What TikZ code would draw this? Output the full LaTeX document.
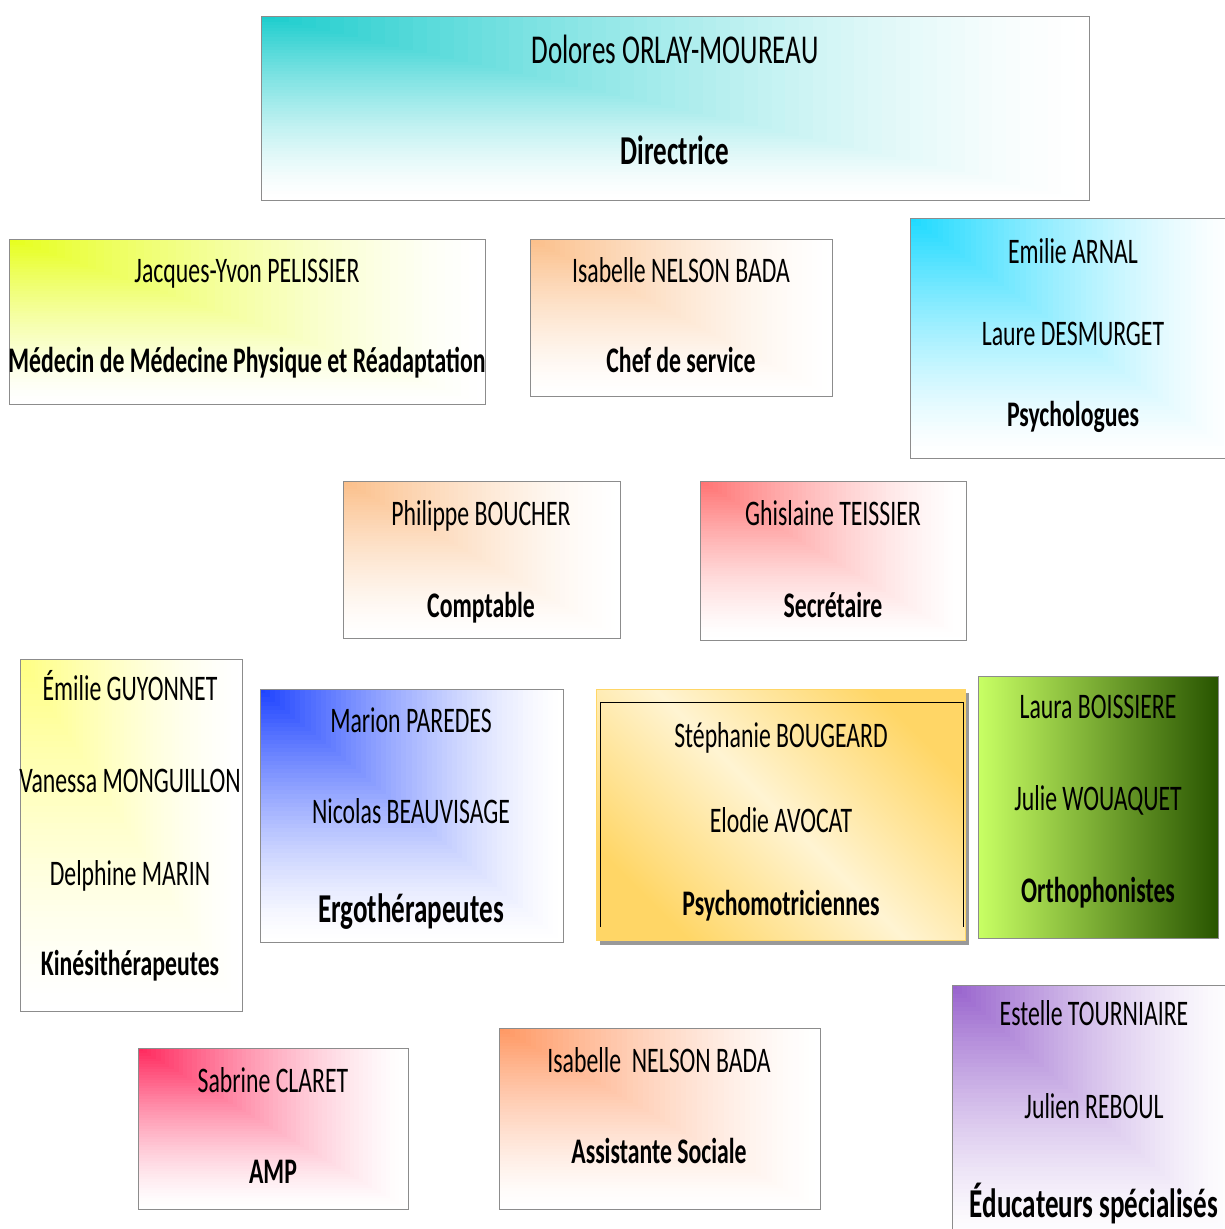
\documentclass[tikz,border=0pt]{standalone}
\usepackage{fontspec}
\setmainfont{Carlito}[FakeStretch=0.66]
\usetikzlibrary{positioning}
\definecolor{boxgray}{RGB}{140,140,140}
\definecolor{teal1}{RGB}{24,204,204}
\definecolor{lime1}{RGB}{230,255,26}
\definecolor{peach1}{RGB}{251,190,136}
\definecolor{cyan1}{RGB}{26,217,255}
\definecolor{salmon1}{RGB}{255,112,112}
\definecolor{lemon1}{RGB}{255,255,128}
\definecolor{blue1}{RGB}{26,64,255}
\definecolor{gold1}{RGB}{255,214,102}
\definecolor{gold2}{RGB}{255,244,210}
\definecolor{green1}{RGB}{200,255,100}
\definecolor{green2}{RGB}{40,84,0}
\definecolor{purple1}{RGB}{150,96,204}
\definecolor{crimson1}{RGB}{255,36,90}
\definecolor{orange1}{RGB}{255,150,96}
\newcommand\namefont{\fontsize{36}{40}\selectfont}
\newcommand\rolefont{\bfseries\fontsize{36}{40}\selectfont}
\newcommand\bignamefont{\fontsize{41}{46}\selectfont}
\newcommand\bigrolefont{\bfseries\fontsize{41}{46}\selectfont}
% corner fade: x, y, width, height, colour
\newcommand\cornerfade[5]{%
    \foreach \i [evaluate=\i as \pct using {100*(1.001-\i/60)^1.4}] in {60,...,1}
        \fill[#5!\pct!white] (#1, #2) rectangle ++(\i/60*#3, \i/60*#4);
}

\begin{document}
\begin{tikzpicture}[x=1pt, y=-1pt,
    box/.style={draw=boxgray, line width=1.3pt, inner sep=0pt, anchor=north west},
    who/.style={anchor=base, inner sep=0pt, font=\namefont},
    role/.style={anchor=base, inner sep=0pt, font=\rolefont}]
    \useasboundingbox (0,0) rectangle (1225,1229);
    \clip (0,0) rectangle (1225,1229);

    %Directrice
    \cornerfade{261}{16}{828}{184}{teal1}
    \node at (261, 16) [box, minimum width=828pt, minimum height=184pt] (dir) {};
    \node at (675, 63) [who, font=\bignamefont] (dir_n) {Dolores ORLAY-MOUREAU};
    \node at (675, 164) [role, font=\bigrolefont] (dir_r) {Directrice};

    %Medecin
    \cornerfade{9}{239}{476}{165}{lime1}
    \node at (9, 239) [box, minimum width=476pt, minimum height=165pt] (med) {};
    \node at (247, 282) [who] (med_n) {Jacques-Yvon PELISSIER};
    \node at (247, 372) [role] (med_r) {Médecin de Médecine Physique et Réadaptation};

    %Chef de service
    \cornerfade{530}{239}{302}{157}{peach1}
    \node at (530, 239) [box, minimum width=302pt, minimum height=157pt] (chef) {};
    \node at (681, 282) [who] (chef_n) {Isabelle NELSON BADA};
    \node at (681, 372) [role] (chef_r) {Chef de service};

    %Psychologues
    \cornerfade{910}{218}{330}{240}{cyan1}
    \node at (910, 218) [box, minimum width=330pt, minimum height=240pt] (psy) {};
    \node at (1073, 263) [who] (psy_n1) {Emilie ARNAL};
    \node at (1073, 345) [who] (psy_n2) {Laure DESMURGET};
    \node at (1073, 426) [role] (psy_r) {Psychologues};

    %Comptable
    \cornerfade{343}{481}{277}{157}{peach1}
    \node at (343, 481) [box, minimum width=277pt, minimum height=157pt] (cpt) {};
    \node at (481, 525) [who] (cpt_n) {Philippe BOUCHER};
    \node at (481, 617) [role] (cpt_r) {Comptable};

    %Secretaire
    \cornerfade{700}{481}{266}{159}{salmon1}
    \node at (700, 481) [box, minimum width=266pt, minimum height=159pt] (sec) {};
    \node at (833, 525) [who] (sec_n) {Ghislaine TEISSIER};
    \node at (833, 617) [role] (sec_r) {Secrétaire};

    %Kine
    \cornerfade{20}{659}{222}{352}{lemon1}
    \node at (20, 659) [box, minimum width=222pt, minimum height=352pt] (kine) {};
    \node at (130, 700) [who] (kine_n1) {Émilie GUYONNET};
    \node at (130, 792) [who] (kine_n2) {Vanessa MONGUILLON};
    \node at (130, 885) [who] (kine_n3) {Delphine MARIN};
    \node at (130, 975) [role] (kine_r) {Kinésithérapeutes};

    %Ergo
    \cornerfade{260}{689}{303}{253}{blue1}
    \node at (260, 689) [box, minimum width=303pt, minimum height=253pt] (ergo) {};
    \node at (411, 732) [who] (ergo_n1) {Marion PAREDES};
    \node at (411, 823) [who] (ergo_n2) {Nicolas BEAUVISAGE};
    \node at (411, 922) [role, font=\bigrolefont] (ergo_r) {Ergothérapeutes};

    %Psychomot
    \node at (600, 693) [anchor=north west, fill=black!40, minimum width=369pt, minimum height=252pt, inner sep=0pt] (pm_s) {};
    \node at (596, 689) [anchor=north west, draw=gold1, line width=1.3pt, inner sep=0pt,
        top color=gold1, bottom color=gold1, middle color=gold2, shading angle=-45,
        minimum width=369pt, minimum height=251pt] (pm) {};
    \draw[line width=0.8pt] (600, 927) -- (600, 702) -- (963, 702) -- (963, 927);
    \node at (781, 747) [who] (pm_n1) {Stéphanie BOUGEARD};
    \node at (781, 832) [who] (pm_n2) {Elodie AVOCAT};
    \node at (781, 915) [role] (pm_r) {Psychomotriciennes};

    %Ortho
    \node at (978, 676) [box, left color=green1, right color=green2, minimum width=240pt, minimum height=262pt] (orth) {};
    \node at (1098, 718) [who] (orth_n1) {Laura BOISSIERE};
    \node at (1098, 810) [who] (orth_n2) {Julie WOUAQUET};
    \node at (1098, 902) [role] (orth_r) {Orthophonistes};

    %Educateurs
    \cornerfade{952}{985}{290}{260}{purple1}
    \node at (952, 985) [box, minimum width=290pt, minimum height=260pt] (educ) {};
    \node at (1094, 1025) [who] (educ_n1) {Estelle TOURNIAIRE};
    \node at (1094, 1118) [who] (educ_n2) {Julien REBOUL};
    \node at (1094, 1217) [role, font=\bigrolefont] (educ_r) {Éducateurs spécialisés};

    %AMP
    \cornerfade{138}{1048}{270}{161}{crimson1}
    \node at (138, 1048) [box, minimum width=270pt, minimum height=161pt] (amp) {};
    \node at (273, 1092) [who] (amp_n) {Sabrine CLARET};
    \node at (273, 1183) [role] (amp_r) {AMP};

    %Assistante sociale
    \cornerfade{499}{1028}{321}{181}{orange1}
    \node at (499, 1028) [box, minimum width=321pt, minimum height=181pt] (as) {};
    \node at (659, 1072) [who] (as_n) {Isabelle\ \ NELSON BADA};
    \node at (659, 1163) [role] (as_r) {Assistante Sociale};
\end{tikzpicture}
\end{document}
